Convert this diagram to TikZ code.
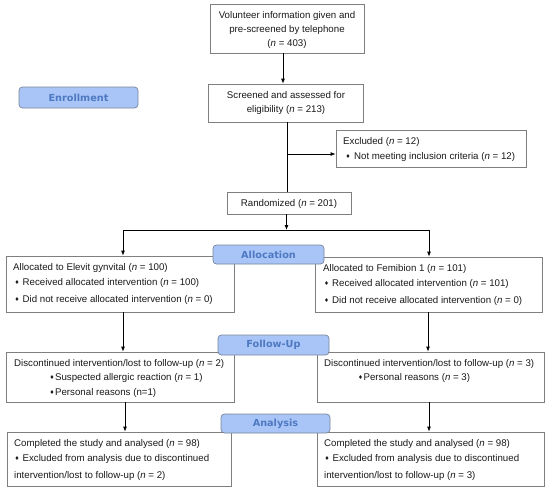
\documentclass[tikz,border=0pt]{standalone}
\usepackage{fontspec}
\setmainfont{Liberation Sans}
\newfontfamily\dejavu{DejaVu Sans}
\usetikzlibrary{arrows.meta,calc}
\definecolor{lblfill}{HTML}{A9C5F7}
\definecolor{lbldraw}{HTML}{77859A}
\definecolor{lbltext}{HTML}{4E79C2}
\definecolor{boxdraw}{HTML}{7F7F7F}
\definecolor{txtcol}{HTML}{1A1A1A}
\newcommand{\bul}{{\dejavu\fontsize{5.5}{5.5}\selectfont\raisebox{0.6pt}{♦}}}
\newcommand{\nn}{\textit{n}}
\begin{document}
\begin{tikzpicture}[x=1pt,y=-1pt,
  box/.style={draw=boxdraw,line width=0.8pt,fill=white,inner sep=0,minimum width=#1},
  lbl/.style={draw=lbldraw,line width=0.7pt,fill=lblfill,rounded corners=3.5pt,inner sep=0,
     text=lbltext,font=\dejavu\bfseries\fontsize{9.7}{11}\selectfont},
  txt/.style={inner sep=0,anchor=west,text=txtcol,font=\fontsize{9.7}{11}\selectfont,text height=8pt,text depth=2pt},
  ctxt/.style={txt,anchor=center},
  conn/.style={line width=0.8pt,draw=black},
  arr/.style={conn,-{Latex[length=5pt,width=4pt]}}]
\useasboundingbox (0,0) rectangle (550,491);
% boxes
\node[box=154pt,minimum height=49pt] (top) at (287,28.5) {};
\node[box=155pt,minimum height=38pt] (scr) at (285.5,103) {};
\node[box=190pt,minimum height=37pt] (excl) at (431,148.5) {};
\node[box=124pt,minimum height=22pt] (rand) at (289,203) {};
\node[box=228pt,minimum height=56pt] (allocL) at (120,284) {};
\node[box=227pt,minimum height=55pt] (allocR) at (428.5,284.5) {};
\node[box=228pt,minimum height=50pt] (folL) at (120,377) {};
\node[box=227pt,minimum height=50pt] (folR) at (430.5,377) {};
\node[box=224pt,minimum height=54pt] (anaL) at (119,459) {};
\node[box=227pt,minimum height=54pt] (anaR) at (430.5,459) {};
% texts
\node[ctxt] (t1) at (287,15) {Volunteer information given and};
\node[ctxt] (t2) at (287,29) {pre-screened by telephone};
\node[ctxt] (t3) at (287,43) {(\nn{} = 403)};
\node[ctxt] (s1) at (286,95) {Screened and assessed for};
\node[ctxt] (s2) at (286,109) {eligibility (\nn{} = 213)};
\node[txt] (e1) at (343,141) {Excluded (\nn{} = 12)};
\node[txt] (e2) at (345.5,156) {\bul\hspace{3.5pt}Not meeting inclusion criteria (\nn{} = 12)};
\node[ctxt] (r1) at (289,203) {Randomized (\nn{} = 201)};
\node[txt] (al1) at (13,267) {Allocated to Elevit gynvital (\nn{} = 100)};
\node[txt] (al2) at (14.5,282) {\bul\hspace{3pt}Received allocated intervention (\nn{} = 100)};
\node[txt] (al3) at (14.5,299) {\bul\hspace{3pt}Did not receive allocated intervention (\nn{} = 0)};
\node[txt] (ar1) at (323,268) {Allocated to Femibion 1 (\nn{} = 101)};
\node[txt] (ar2) at (324,283) {\bul\hspace{3pt}Received allocated intervention (\nn{} = 101)};
\node[txt] (ar3) at (324,300) {\bul\hspace{3pt}Did not receive allocated intervention (\nn{} = 0)};
\node[txt] (fl1) at (14,363) {Discontinued intervention/lost to follow-up (\nn{} = 2)};
\node[txt] (fl2) at (49.5,377) {\bul\hspace{0.5pt}Suspected allergic reaction (\nn{} = 1)};
\node[txt] (fl3) at (49.5,392) {\bul\hspace{0.5pt}Personal reasons (n=1)};
\node[txt] (fr1) at (324,363) {Discontinued intervention/lost to follow-up (\nn{} = 3)};
\node[txt] (fr2) at (358,377) {\bul\hspace{0.5pt}Personal reasons (\nn{} = 3)};
\node[txt] (nl1) at (14,443) {Completed the study and analysed (\nn{} = 98)};
\node[txt] (nl2) at (14.5,458) {\bul\hspace{3pt}Excluded from analysis due to discontinued};
\node[txt] (nl3) at (14,475) {intervention/lost to follow-up (\nn{} = 2)};
\node[txt] (nr1) at (324,443) {Completed the study and analysed (\nn{} = 98)};
\node[txt] (nr2) at (324.5,458) {\bul\hspace{3pt}Excluded from analysis due to discontinued};
\node[txt] (nr3) at (324,475) {intervention/lost to follow-up (\nn{} = 3)};
% connectors
\draw[arr] ([xshift=-4pt]top.south) -- ([xshift=-2.5pt]scr.north);
\coordinate (bx) at (287,154);
\draw[conn] ([xshift=1.5pt]scr.south) -- ([xshift=-2pt]rand.north);
\draw[arr] (bx) -- (bx -| excl.west);
\coordinate (jL) at (123,230);
\coordinate (jR) at (429,230);
\coordinate (jM) at (286.5,230);
\draw[arr] ([xshift=-2.5pt]rand.south) -- (jM);
\draw[conn] (jL) -- (jR);
\draw[arr] (jL) -- (jL |- allocL.north);
\draw[arr] (jR) -- (jR |- allocR.north);
\draw[arr] ([xshift=3pt]allocL.south) -- ([xshift=3pt]folL.north);
\draw[arr] ([xshift=-0.5pt]allocR.south) -- ([xshift=-2.5pt]folR.north);
\draw[arr] ([xshift=5pt]folL.south) -- ([xshift=6pt]anaL.north);
\draw[arr] ([xshift=-1.5pt]folR.south) -- ([xshift=-1.5pt]anaR.north);
% labels
\node[lbl,minimum width=119pt,minimum height=21pt] (enr) at (78.5,97.5) {Enrollment};
\node[lbl,minimum width=111pt,minimum height=19pt] (alc) at (268.5,254.5) {Allocation};
\node[lbl,minimum width=111pt,minimum height=20pt] (fup) at (273.5,345) {Follow-Up};
\node[lbl,minimum width=109pt,minimum height=19pt] (ana) at (275.5,423.5) {Analysis};
\end{tikzpicture}
\end{document}
